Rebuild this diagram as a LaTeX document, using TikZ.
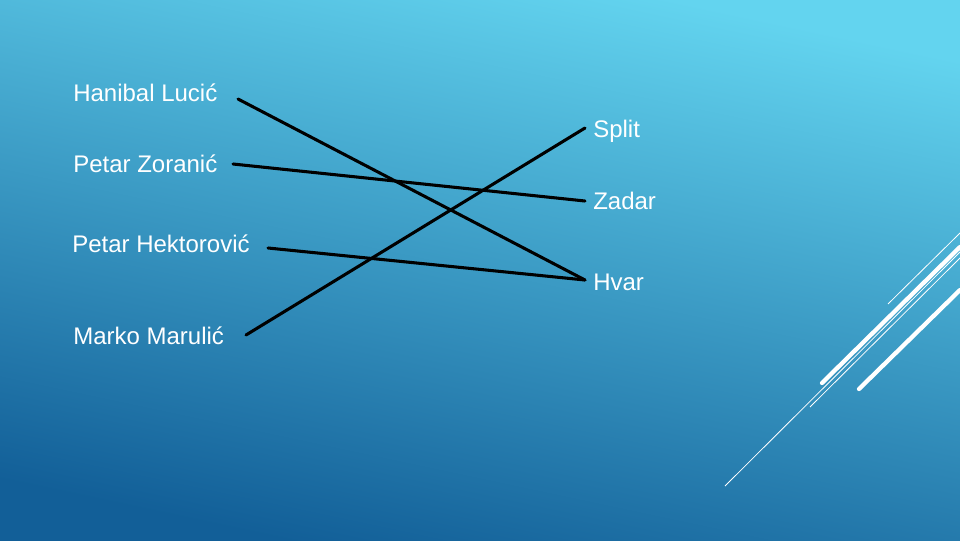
\documentclass[tikz,border=0pt]{standalone}
\usepackage{fontspec}
\setmainfont{Liberation Sans}
\definecolor{bgtop}{RGB}{99,212,239}
\definecolor{bgbot}{RGB}{18,95,152}
\tikzset{
  lbl/.style={anchor=base west, text=white, inner sep=0pt, font=\fontsize{18}{21}\selectfont},
  link/.style={line width=2.3pt, black, line cap=round},
  deco/.style={white, line width=0.6pt},
  decothick/.style={white, line width=3.2pt, line cap=round},
}
\begin{document}
\begin{tikzpicture}[x=0.75pt,y=-0.75pt]
\useasboundingbox (0,0) rectangle (960,540);
\shade[top color=bgtop, bottom color=bgbot, shading angle=-12] (0,0) rectangle (960,540);
% decorative lines
\draw[deco] (888,304) -- (960,233);
\draw[decothick] (822,383) -- (960,247);
\draw[deco] (725,486) -- (960,252);
\draw[deco] (810,407) -- (960,258);
\draw[decothick] (859,389) -- (960,290);
% labels
\node[lbl] (hanibal) at (73,101) {Hanibal Lucić};
\node[lbl] (zoranic) at (73,172) {Petar Zoranić};
\node[lbl] (hektorovic) at (72,252) {Petar Hektorović};
\node[lbl] (marulic) at (73,344) {Marko Marulić};
\node[lbl] (split) at (593,137) {Split};
\node[lbl] (zadar) at (593,209) {Zadar};
\node[lbl] (hvar) at (593,290) {Hvar};
% connector ends
\coordinate (hA) at (238,99);
\coordinate (zA) at (233,164);
\coordinate (kA) at (268,248);
\coordinate (mA) at (246,335);
\coordinate (sB) at (585,128);
\coordinate (dB) at (585,201);
\coordinate (vB) at (585,280);
\draw[link] (hA) -- (vB);
\draw[link] (zA) -- (dB);
\draw[link] (kA) -- (vB);
\draw[link] (mA) -- (sB);
\end{tikzpicture}
\end{document}
